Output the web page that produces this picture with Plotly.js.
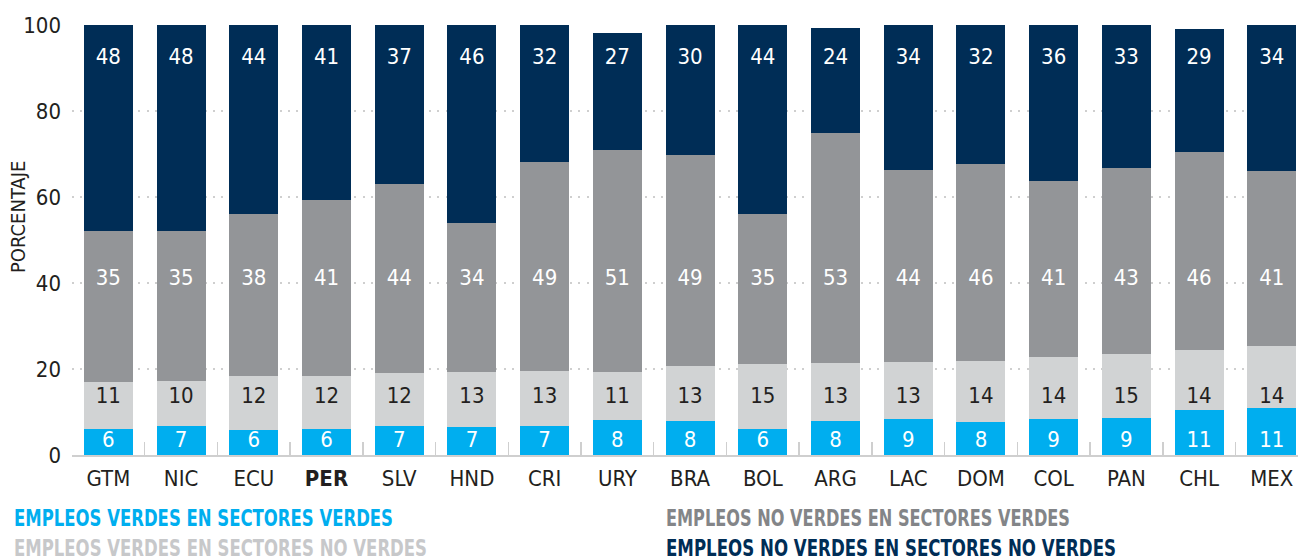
<!DOCTYPE html>
<html>
<head>
<meta charset="utf-8">
<script src="https://cdn.plot.ly/plotly-3.0.1.min.js"></script>
<style>html,body{margin:0;padding:0;background:#fff;}#chart{width:1298px;height:557px;}</style>
</head>
<body>
<div id="chart"></div>
<script>
// ---- Data ----
const categories = ["GTM","NIC","ECU","PER","SLV","HND","CRI","URY","BRA","BOL","ARG","LAC","DOM","COL","PAN","CHL","MEX"];
const tickLabels = ["GTM","NIC","ECU","<b>PER</b>","SLV","HND","CRI","URY","BRA","BOL","ARG","LAC","DOM","COL","PAN","CHL","MEX"];

// Empleos verdes en sectores verdes
const verdesVerdes      = [6.05, 6.7, 5.9, 6.05, 6.7, 6.5, 6.8, 8.1, 7.9, 6.05, 7.8, 8.4, 7.6, 8.45, 8.6, 10.5, 11.0];
// Empleos verdes en sectores no verdes
const verdesNoVerdes    = [11.0, 10.6, 12.4, 12.4, 12.4, 12.9, 12.7, 11.3, 12.8, 15.1, 13.5, 13.3, 14.3, 14.3, 15.0, 13.9, 14.3];
// Empleos no verdes en sectores verdes
const noVerdesVerdes    = [35.0, 34.7, 37.8, 40.8, 44.0, 34.6, 48.6, 51.5, 49.1, 34.9, 53.5, 44.6, 45.8, 41.0, 43.1, 46.1, 40.8];
// Empleos no verdes en sectores no verdes
const noVerdesNoVerdes  = [47.9, 48.0, 43.9, 40.8, 36.9, 46.0, 31.9, 27.2, 30.2, 43.9, 24.4, 33.7, 32.3, 36.2, 33.3, 28.6, 33.9];

// Printed labels
const lblVerdesVerdes     = [6, 7, 6, 6, 7, 7, 7, 8, 8, 6, 8, 9, 8, 9, 9, 11, 11];
const lblVerdesNoVerdes   = [11, 10, 12, 12, 12, 13, 13, 11, 13, 15, 13, 13, 14, 14, 15, 14, 14];
const lblNoVerdesVerdes   = [35, 35, 38, 41, 44, 34, 49, 51, 49, 35, 53, 44, 46, 41, 43, 46, 41];
const lblNoVerdesNoVerdes = [48, 48, 44, 41, 37, 46, 32, 27, 30, 44, 24, 34, 32, 36, 33, 29, 34];

const seriesNames = [
  "EMPLEOS VERDES EN SECTORES VERDES",
  "EMPLEOS VERDES EN SECTORES NO VERDES",
  "EMPLEOS NO VERDES EN SECTORES VERDES",
  "EMPLEOS NO VERDES EN SECTORES NO VERDES"
];

// ---- Styles ----
const C_BLUE = "#00aeef", C_LGRAY = "#d1d3d4", C_GRAY = "#939598", C_NAVY = "#002d56";
const FONT = "'DejaVu Sans Condensed', 'Liberation Sans Narrow', sans-serif";
const LABEL_Y = {blue: 3.1, lgray: 13.4, gray: 40.8, navy: 92.2};

function barTrace(vals, color, name) {
  return {type: "bar", x: categories, y: vals, name: name, marker: {color: color, line: {width: 0}},
          hoverinfo: "skip", showlegend: false};
}
function textTrace(labels, yPos, color) {
  return {type: "scatter", mode: "text", x: categories, y: categories.map(() => yPos),
          text: labels.map(String), textposition: "middle center",
          textfont: {family: FONT, size: 22, color: color}, hoverinfo: "skip", showlegend: false, cliponaxis: false};
}

const data = [
  barTrace(verdesVerdes, C_BLUE, seriesNames[0]),
  barTrace(verdesNoVerdes, C_LGRAY, seriesNames[1]),
  barTrace(noVerdesVerdes, C_GRAY, seriesNames[2]),
  barTrace(noVerdesNoVerdes, C_NAVY, seriesNames[3]),
  textTrace(lblVerdesVerdes, LABEL_Y.blue, "#ffffff"),
  textTrace(lblVerdesNoVerdes, LABEL_Y.lgray, "#231f20"),
  textTrace(lblNoVerdesVerdes, LABEL_Y.gray, "#ffffff"),
  textTrace(lblNoVerdesNoVerdes, LABEL_Y.navy, "#ffffff")
];

const legendColors = [C_BLUE, "#c7c8ca", "#838588", C_NAVY];
const legendPos = [[12, 518], [12, 548], [664, 518], [664, 548]];
const legendWidths = [379, 413, 404, 450];
const H = 557, W = 1298;
const annotations = seriesNames.map((n, i) => ({
  xref: "paper", yref: "paper", xanchor: "left", yanchor: "middle",
  x: (legendPos[i][0] - 72) / (W - 72), y: (455 - legendPos[i][1]) / 430,
  text: n, showarrow: false,
  font: {family: FONT, size: 23, weight: 700, color: legendColors[i]}
}));
annotations.push({
  xref: "paper", yref: "paper", x: (18 - 72) / (W - 72), y: (455 - 217) / 430,
  xanchor: "center", yanchor: "middle", textangle: -90, showarrow: false,
  text: "PORCENTAJE", font: {family: FONT, size: 20, color: "#231f20"}
});

const layout = {
  width: W, height: H,
  margin: {l: 72, r: 0, t: 25, b: 102},
  paper_bgcolor: "#fff", plot_bgcolor: "#fff",
  barmode: "stack", bargap: 0.326,
  showlegend: false,
  font: {family: FONT, color: "#231f20"},
  xaxis: {
    type: "category", range: [-0.5, 16.36],
    tickmode: "array", tickvals: categories, ticktext: tickLabels,
    tickson: "boundaries", ticks: "inside", ticklen: 13, tickcolor: "#cfcfcf", tickwidth: 1.5,
    showline: true, linecolor: "#cfcfcf", linewidth: 1.5,
    showgrid: false, tickfont: {family: FONT, size: 22, color: "#231f20"},
    ticklabelstandoff: 3, fixedrange: true
  },
  yaxis: {
    range: [0, 100], tickvals: [0, 20, 40, 60, 80, 100],
    showgrid: true, gridcolor: "#cfcfcf", griddash: "2px,6.3px", gridwidth: 2,
    zeroline: false, showline: false, ticks: "",
    tickfont: {family: FONT, size: 22, color: "#231f20"},
    ticklabelstandoff: 10, fixedrange: true
  },
  annotations: annotations
};

Plotly.newPlot("chart", data, layout, {displayModeBar: false, staticPlot: true}).then(function (gd) {
  // Compress the legend texts horizontally to the condensed widths of the reference
  const texts = gd.querySelectorAll(".annotation .annotation-text");
  for (let i = 0; i < 4 && i < texts.length; i++) {
    const t = texts[i];
    const bb = t.getBBox();
    t.setAttribute("text-anchor", "start");
    t.setAttribute("x", bb.x);
    t.setAttribute("textLength", legendWidths[i]);
    t.setAttribute("lengthAdjust", "spacingAndGlyphs");
  }
});
</script>
</body>
</html>
